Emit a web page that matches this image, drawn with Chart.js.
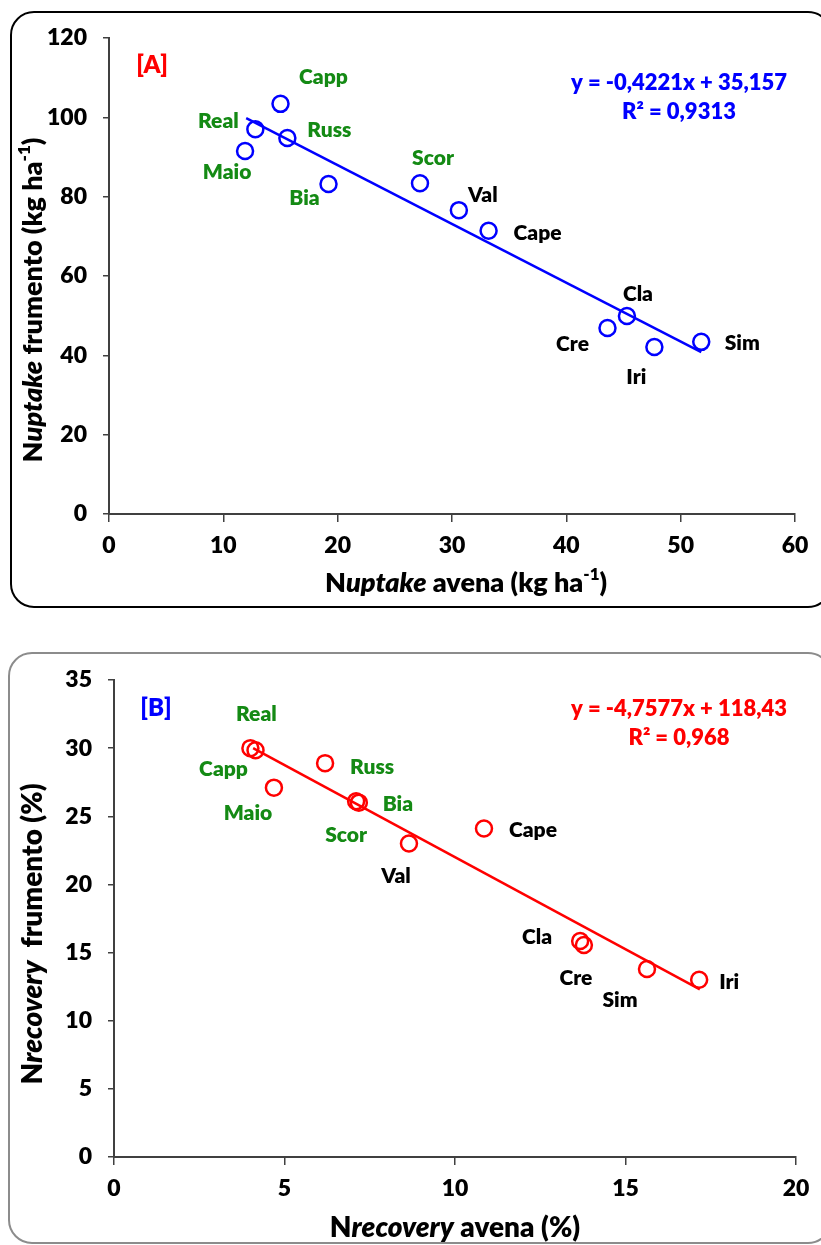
<!DOCTYPE html>
<html lang="it">
<head>
<meta charset="UTF-8" />
<title>Nuptake e Nrecovery: avena vs frumento</title>
<script src="https://cdn.jsdelivr.net/npm/chart.js"></script>
<style>
  body {
    margin: 0;
    background: #fff;
    width: 821px;
    height: 1245px;
    position: relative;
    overflow: hidden;
  }
  .riquadro {
    position: absolute;
    box-sizing: border-box;
    border-radius: 24px;
  }
  #riqA { left: 10px; top: 11px; width: 822px; height: 597px; border: 2.5px solid #000; }
  #riqB { left: 8px; top: 652px; width: 824px; height: 592px; border: 2.5px solid #8c8c8c; }
  canvas { position: absolute; left: 0; }
  #graficoA { top: 0; }
  #graficoB { top: 625px; }
</style>
</head>
<body>

<div class="riquadro" id="riqA"></div>
<div class="riquadro" id="riqB"></div>
<canvas id="graficoA" width="821" height="620"></canvas>
<canvas id="graficoB" width="821" height="620"></canvas>

<script>
  // varietà (stesso ordine in entrambi i grafici)
  const varieta = ['Real', 'Capp', 'Maio', 'Russ', 'Bia', 'Scor', 'Val', 'Cape', 'Cla', 'Cre', 'Iri', 'Sim'];
  const coloreEtichetta = ['#148a14', '#148a14', '#148a14', '#148a14', '#148a14', '#148a14',
                           '#000', '#000', '#000', '#000', '#000', '#000'];

  // [A] N uptake (kg/ha)
  const uptakeAvena    = [12.8, 15.0, 11.9, 15.6, 19.2, 27.2, 30.6, 33.2, 45.3, 43.6, 47.7, 51.8];
  const uptakeFrumento = [97.0, 103.4, 91.5, 94.8, 83.2, 83.4, 76.6, 71.4, 49.9, 46.9, 42.1, 43.4];
  const trendA_x = [12.0, 51.8];
  const trendA_y = [99.8, 40.8];

  // [B] N recovery (%)
  const recAvena    = [4.0, 4.15, 4.69, 6.19, 7.18, 7.1, 8.65, 10.85, 13.67, 13.78, 17.16, 15.63];
  const recFrumento = [30.0, 29.85, 27.1, 28.9, 26.0, 26.1, 23.0, 24.1, 15.85, 15.55, 13.0, 13.8];
  const trendB_x = [4.08, 17.18];
  const trendB_y = [30.0, 12.3];

  // spostamento delle etichette rispetto al punto (px)
  const offsetA = [[-37, -8], [43, -27], [-18, 21], [42, -8], [-24, 14], [13, -25],
                   [24, -15], [49, 2], [11, -22], [-35, 16], [-18, 30], [41, 1]];
  const offsetB = [[6, -34], [-32, 19], [-26, 26], [47, 4], [39, 2], [-10, 34],
                   [-13, 33], [49, 2], [-43, -4], [-8, 33], [30, 2], [-27, 31]];

  const FONT = 'Lato, "Open Sans", sans-serif';
  const PESO = '800';

  function punti(xs, ys) {
    return xs.map((x, i) => ({ x: x, y: ys[i] }));
  }

  // testo con parti in corsivo / apice
  function testoMisto(ctx, parti, x, y, size, rot) {
    const fontDi = p => (p[1] === 'i' ? 'italic ' : '') + PESO + ' ' +
      (p[1] === 'sup' ? Math.round(size * 0.62) : size) + 'px ' + FONT;
    ctx.save();
    ctx.translate(x, y);
    ctx.rotate(rot);
    let w = 0;
    parti.forEach(p => { ctx.font = fontDi(p); w += ctx.measureText(p[0]).width; });
    let cx = -w / 2;
    ctx.textAlign = 'left';
    ctx.textBaseline = 'middle';
    ctx.fillStyle = '#000';
    parti.forEach(p => {
      ctx.font = fontDi(p);
      ctx.fillText(p[0], cx, p[1] === 'sup' ? -size * 0.33 : 0);
      cx += ctx.measureText(p[0]).width;
    });
    ctx.restore();
  }

  const etichette = {
    id: 'etichette',
    afterDatasetsDraw(chart, args, o) {
      const ctx = chart.ctx;
      const meta = chart.getDatasetMeta(0);
      ctx.save();
      ctx.font = PESO + ' 21px ' + FONT;
      ctx.textAlign = 'center';
      ctx.textBaseline = 'middle';
      meta.data.forEach((pt, i) => {
        ctx.fillStyle = coloreEtichetta[i];
        ctx.fillText(varieta[i], pt.x + o.offset[i][0], pt.y + o.offset[i][1]);
      });
      // lettera del pannello ed equazione
      ctx.font = PESO + ' 24px ' + FONT;
      ctx.fillStyle = o.coloreLettera;
      ctx.fillText(o.lettera, o.posLettera[0], o.posLettera[1]);
      ctx.font = PESO + ' 22px ' + FONT;
      ctx.fillStyle = o.colore;
      ctx.fillText(o.eq[0], o.posEq[0], o.posEq[1]);
      ctx.fillText(o.eq[1], o.posEq[0], o.posEq[1] + 29);
      ctx.restore();

      testoMisto(ctx, o.titoloX, o.posTitoloX[0], o.posTitoloX[1], o.dimTitolo, 0);
      testoMisto(ctx, o.titoloY, o.posTitoloY[0], o.posTitoloY[1], o.dimTitolo, -Math.PI / 2);
    }
  };

  function crea(id, xs, ys, tx, ty, colore, sc, extra) {
    const tickFont = { family: FONT, weight: PESO, size: 23 };
    return new Chart(document.getElementById(id), {
      type: 'scatter',
      data: {
        datasets: [{
          data: punti(xs, ys),
          borderColor: colore,
          backgroundColor: 'rgba(0,0,0,0)',
          pointRadius: 8,
          pointHoverRadius: 8,
          borderWidth: 2.5
        }, {
          data: punti(tx, ty),
          showLine: true,
          borderColor: colore,
          borderWidth: 2.5,
          pointRadius: 0
        }]
      },
      options: {
        responsive: false,
        animation: false,
        layout: { padding: { top: sc.top, right: sc.right, left: 0, bottom: 0 } },
        plugins: {
          legend: { display: false },
          tooltip: { enabled: false },
          etichette: extra
        },
        scales: {
          x: {
            type: 'linear', min: 0, max: sc.xMax,
            ticks: { stepSize: sc.xStep, color: '#000', font: tickFont, padding: 10 },
            grid: { drawOnChartArea: false, tickLength: 8, color: '#404040', lineWidth: 1.5 },
            border: { color: '#404040', width: 2 },
            afterFit: s => { s.height = sc.hX; }
          },
          y: {
            type: 'linear', min: 0, max: sc.yMax,
            ticks: { stepSize: sc.yStep, color: '#000', font: tickFont, padding: 16 },
            grid: { drawOnChartArea: false, tickLength: 6, color: '#404040', lineWidth: 1.5 },
            border: { color: '#404040', width: 2 },
            afterFit: s => { s.width = sc.wY; }
          }
        }
      },
      plugins: [etichette]
    });
  }

  crea('graficoA', uptakeAvena, uptakeFrumento, trendA_x, trendA_y, '#0000ff',
    { xMax: 60, xStep: 10, yMax: 120, yStep: 20, top: 38, right: 26, hX: 106, wY: 109 },
    {
      offset: offsetA,
      lettera: '[A]', coloreLettera: '#ff0000', posLettera: [152, 65],
      colore: '#0000ff', eq: ['y = -0,4221x + 35,157', 'R² = 0,9313'], posEq: [679, 83],
      dimTitolo: 27,
      titoloX: [['N', ''], ['uptake', 'i'], [' avena (kg ha', ''], ['-1', 'sup'], [')', '']],
      posTitoloX: [466, 583],
      titoloY: [['N', ''], ['uptake', 'i'], [' frumento (kg ha', ''], ['-1', 'sup'], [')', '']],
      posTitoloY: [33, 300]
    });

  crea('graficoB', recAvena, recFrumento, trendB_x, trendB_y, '#ff0000',
    { xMax: 20, xStep: 5, yMax: 35, yStep: 5, top: 55, right: 25, hX: 88, wY: 114 },
    {
      offset: offsetB,
      lettera: '[B]', coloreLettera: '#0000ff', posLettera: [156, 83],
      colore: '#ff0000', eq: ['y = -4,7577x + 118,43', 'R² = 0,968'], posEq: [679, 84],
      dimTitolo: 28,
      titoloX: [['N', ''], ['recovery', 'i'], [' avena (%)', '']],
      posTitoloX: [455, 603],
      titoloY: [['N', ''], ['recovery', 'i'], ['  frumento (%)', '']],
      posTitoloY: [33, 934 - 625]
    });
</script>
</body>
</html>
